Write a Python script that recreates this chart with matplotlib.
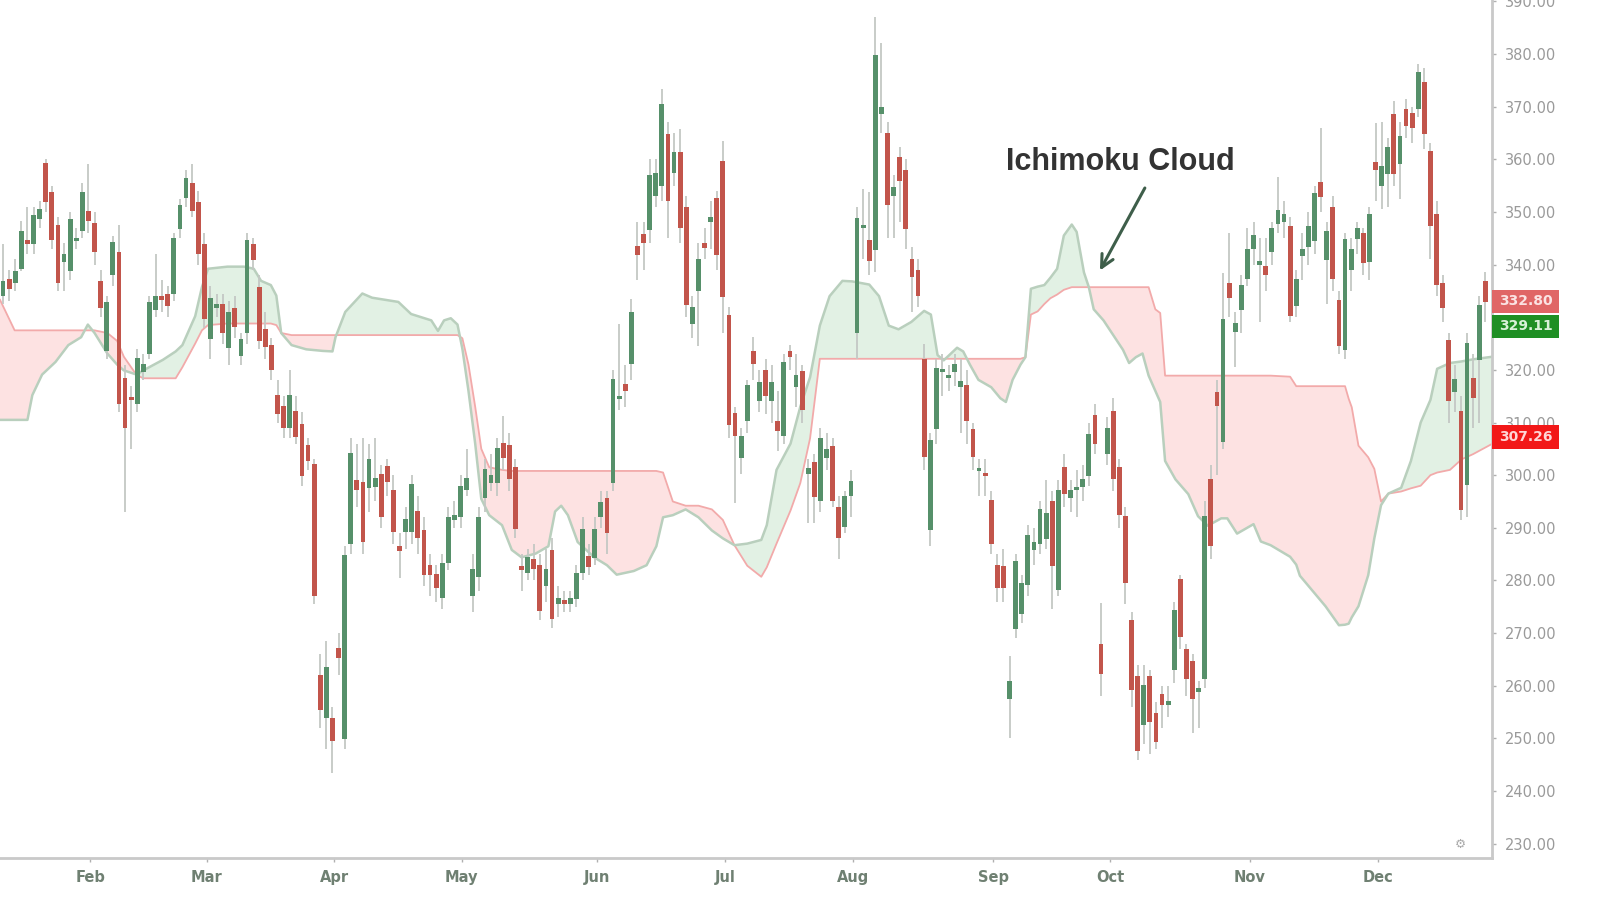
import numpy as np
import matplotlib
matplotlib.use("Agg")
import matplotlib.pyplot as plt
from matplotlib.patches import Rectangle
import matplotlib.transforms as mtransforms

# daily candles, one per trading day
opens = [334.1, 337.2, 336.5, 339.2, 344.7, 343.9, 348.7, 359.3, 353.8, 347.5,
         340.4, 338.8, 344.5, 346.3, 350.2, 347.9, 336.9, 323.5, 338.0, 342.4,
         318.4, 314.6, 313.6, 319.5, 323.1, 331.3, 334.0, 334.5, 334.5, 346.7,
         352.6, 355.4, 351.8, 343.9, 325.8, 331.8, 332.5, 324.2, 331.7, 322.7,
         327.0, 343.9, 335.7, 327.8, 324.7, 315.2, 313.2, 308.9, 312.1, 309.7,
         305.7, 302.2, 262.0, 253.8, 253.8, 267.2, 249.9, 286.9, 299.1, 298.7,
         297.5, 297.8, 300.2, 301.8, 297.1, 286.5, 289.2, 289.2, 293.2, 289.6,
         282.9, 281.3, 276.6, 283.3, 291.4, 292.0, 297.1, 277.1, 280.7, 295.6,
         298.5, 298.5, 306.2, 305.8, 301.5, 282.8, 281.5, 284.1, 282.9, 278.9,
         285.8, 275.6, 276.2, 275.6, 276.4, 281.5, 284.7, 284.3, 292.0, 295.6,
         298.5, 314.5, 317.4, 321.1, 343.6, 345.8, 346.5, 353.0, 354.9, 364.7,
         357.4, 361.4, 350.9, 328.7, 334.9, 344.0, 348.0, 352.7, 359.6, 330.5,
         311.9, 303.2, 310.2, 323.5, 314.0, 320.0, 314.0, 310.2, 307.4, 323.5,
         316.8, 319.7, 300.3, 302.5, 295.1, 303.2, 305.6, 294.0, 290.2, 296.1,
         327.0, 346.9, 344.6, 342.8, 368.5, 364.9, 353.0, 360.4, 357.9, 341.1,
         339.0, 322.1, 289.5, 308.8, 319.5, 318.4, 319.5, 316.8, 317.2, 308.7,
         300.8, 299.9, 295.3, 283.0, 282.7, 257.4, 270.7, 273.6, 279.2, 285.8,
         286.9, 287.9, 295.0, 278.1, 301.6, 295.7, 297.1, 297.8, 299.9, 311.5,
         267.9, 304.1, 312.2, 301.6, 292.2, 272.5, 261.9, 252.5, 261.9, 254.9,
         258.5, 256.4, 263.0, 280.2, 266.9, 264.8, 258.8, 261.3, 299.2, 315.8,
         306.3, 336.5, 327.1, 331.4, 337.2, 343.0, 340.0, 339.8, 342.3, 347.7,
         348.1, 347.4, 332.1, 341.6, 343.4, 344.5, 355.7, 340.9, 351.0, 333.2,
         323.8, 339.0, 344.8, 346.0, 340.5, 359.4, 355.0, 357.2, 368.5, 359.0,
         369.6, 368.8, 369.6, 374.7, 361.6, 349.6, 336.5, 325.6, 315.8, 312.1,
         298.2, 318.4, 321.9, 336.8]
highs = [343.9, 339.0, 341.0, 348.2, 351.0, 351.0, 352.0, 360.0, 355.0, 349.0,
         344.0, 350.0, 347.0, 355.5, 359.0, 350.0, 339.0, 334.0, 345.5, 347.5,
         321.0, 317.0, 324.0, 323.0, 334.0, 342.0, 337.0, 336.0, 346.0, 352.5,
         358.0, 359.0, 354.0, 346.0, 336.0, 334.5, 334.5, 333.0, 334.0, 327.0,
         346.0, 345.0, 338.0, 331.0, 326.0, 318.0, 315.0, 320.0, 315.0, 312.0,
         307.0, 303.0, 266.0, 268.5, 256.0, 270.0, 286.5, 307.0, 306.0, 307.0,
         306.0, 307.0, 302.0, 303.0, 300.0, 289.0, 294.0, 300.0, 296.0, 292.0,
         285.0, 283.0, 285.0, 294.0, 295.0, 300.0, 305.0, 285.0, 294.0, 303.0,
         304.0, 307.0, 311.2, 308.0, 303.0, 285.0, 286.0, 287.0, 285.0, 286.0,
         288.0, 279.0, 278.0, 278.0, 283.0, 292.0, 287.0, 292.0, 297.0, 297.0,
         320.0, 328.7, 321.0, 333.5, 348.0, 348.0, 360.0, 360.0, 373.4, 367.0,
         365.0, 365.7, 353.0, 334.0, 344.0, 347.0, 352.0, 354.0, 363.5, 332.0,
         313.0, 309.0, 318.0, 326.3, 320.0, 322.0, 321.0, 316.0, 323.0, 324.7,
         323.0, 321.0, 303.0, 304.0, 309.0, 308.0, 307.0, 296.0, 297.0, 301.0,
         351.0, 354.4, 353.8, 387.0, 382.0, 367.0, 357.0, 362.3, 360.0, 343.4,
         341.0, 325.0, 308.0, 322.0, 323.0, 321.0, 323.0, 322.0, 320.0, 310.0,
         303.0, 303.0, 297.0, 285.0, 286.0, 265.7, 285.0, 281.0, 290.5, 290.0,
         295.0, 299.0, 297.0, 299.0, 304.0, 299.0, 301.0, 302.0, 310.0, 313.5,
         275.7, 311.0, 314.7, 303.0, 294.0, 274.0, 264.0, 264.0, 263.0, 257.0,
         260.0, 260.0, 276.0, 281.0, 268.0, 266.0, 261.0, 295.0, 302.0, 318.0,
         338.4, 346.0, 331.0, 338.0, 347.0, 348.0, 345.0, 345.0, 348.0, 356.6,
         352.0, 349.0, 339.0, 346.0, 350.0, 355.0, 366.0, 348.0, 353.0, 335.0,
         346.0, 345.0, 348.0, 347.0, 351.0, 366.8, 367.0, 364.0, 371.0, 367.0,
         371.5, 370.0, 378.0, 377.3, 363.0, 352.0, 338.0, 327.0, 321.0, 315.0,
         327.0, 323.0, 334.0, 338.5]
lows = [332.5, 333.0, 335.0, 338.8, 342.0, 342.0, 347.0, 350.0, 343.0, 335.0,
        335.0, 337.0, 343.0, 345.0, 346.0, 340.0, 330.0, 322.0, 336.0, 312.0,
        293.0, 305.0, 312.0, 318.0, 322.0, 330.0, 331.0, 330.0, 333.0, 345.0,
        351.0, 349.0, 340.0, 328.0, 322.0, 330.0, 325.0, 321.0, 326.0, 321.0,
        325.0, 339.0, 324.0, 322.0, 318.0, 310.0, 307.0, 307.0, 306.0, 298.0,
        301.0, 275.5, 252.0, 248.0, 243.5, 262.0, 248.0, 285.0, 294.0, 285.0,
        293.0, 295.0, 290.0, 296.0, 287.0, 280.5, 286.0, 287.0, 285.0, 279.0,
        277.0, 276.0, 274.5, 282.0, 290.0, 290.0, 296.0, 274.0, 278.0, 293.0,
        297.0, 296.0, 301.0, 297.0, 288.0, 278.0, 280.0, 280.0, 272.5, 276.0,
        271.0, 273.0, 274.0, 274.0, 275.0, 280.0, 281.0, 283.0, 290.0, 285.0,
        297.0, 312.4, 313.0, 318.0, 337.0, 339.0, 344.0, 351.0, 352.0, 345.0,
        355.0, 344.0, 330.0, 326.0, 324.5, 341.0, 343.0, 339.0, 327.0, 307.0,
        294.7, 300.3, 308.0, 318.0, 312.0, 311.7, 310.0, 304.6, 306.0, 320.0,
        313.0, 310.0, 291.0, 291.0, 293.0, 301.0, 294.0, 284.0, 289.0, 292.0,
        322.0, 341.0, 338.0, 338.6, 365.0, 345.0, 345.0, 348.0, 343.0, 331.0,
        332.0, 301.0, 286.5, 306.0, 315.0, 316.0, 317.0, 308.0, 306.0, 301.0,
        296.0, 296.0, 285.0, 276.0, 276.0, 250.0, 269.0, 272.0, 277.0, 283.0,
        285.0, 286.0, 274.5, 277.0, 294.0, 293.0, 292.0, 295.0, 298.0, 304.0,
        258.1, 302.0, 297.0, 290.0, 275.5, 256.0, 246.0, 249.0, 247.0, 248.0,
        252.0, 254.0, 260.5, 267.0, 258.0, 251.0, 252.0, 259.5, 284.0, 300.0,
        305.0, 330.0, 320.5, 327.0, 336.0, 340.0, 329.0, 335.0, 340.0, 346.0,
        345.0, 329.0, 330.0, 337.0, 340.0, 342.0, 350.0, 332.5, 335.0, 323.0,
        322.0, 335.0, 342.0, 338.0, 337.0, 352.0, 350.5, 351.0, 355.0, 352.5,
        364.0, 363.0, 368.0, 362.0, 341.0, 334.0, 329.0, 310.0, 312.0, 291.5,
        292.0, 309.0, 310.0, 329.0]
closes = [336.9, 335.3, 338.8, 346.3, 343.9, 349.5, 350.6, 351.8, 344.7, 336.5,
          342.0, 348.6, 344.8, 353.8, 348.3, 342.4, 331.7, 332.9, 344.3, 313.6,
          308.9, 314.2, 322.3, 321.1, 332.9, 334.1, 333.2, 332.1, 345.1, 351.4,
          356.5, 350.2, 342.0, 329.7, 333.7, 332.5, 327.0, 330.9, 328.2, 325.8,
          344.7, 340.8, 325.4, 324.3, 319.9, 311.7, 308.9, 315.2, 307.3, 299.9,
          302.6, 277.0, 255.4, 263.6, 249.5, 265.2, 284.9, 304.2, 297.1, 287.3,
          303.0, 299.5, 292.0, 298.7, 289.2, 285.6, 291.6, 298.3, 288.0, 281.0,
          281.0, 278.6, 283.3, 292.0, 292.4, 297.9, 299.5, 282.2, 292.0, 301.1,
          300.0, 305.1, 303.2, 299.3, 289.8, 282.0, 284.4, 282.2, 274.2, 282.2,
          272.7, 276.7, 275.6, 276.7, 281.5, 289.8, 282.6, 289.8, 294.9, 289.1,
          318.2, 314.6, 316.0, 330.9, 341.8, 344.0, 357.1, 357.4, 370.5, 352.0,
          361.4, 346.9, 332.3, 332.0, 341.1, 343.2, 349.0, 341.8, 333.8, 309.5,
          307.4, 307.4, 317.2, 321.1, 317.6, 315.1, 317.6, 308.4, 321.4, 322.5,
          319.0, 312.3, 301.4, 295.8, 307.0, 304.9, 295.1, 288.0, 296.1, 298.9,
          348.8, 347.2, 340.7, 379.7, 369.9, 351.3, 354.8, 355.8, 346.7, 337.6,
          334.0, 303.5, 306.7, 320.4, 320.0, 318.8, 321.1, 317.9, 310.2, 303.4,
          301.0, 299.8, 286.9, 278.5, 278.5, 260.9, 283.7, 279.5, 288.7, 287.3,
          293.6, 292.9, 282.7, 297.1, 296.4, 297.1, 297.8, 299.2, 307.9, 305.9,
          262.3, 309.0, 299.2, 292.5, 279.5, 259.2, 247.6, 260.2, 253.2, 249.3,
          256.4, 257.1, 274.3, 269.3, 261.3, 257.4, 259.5, 292.2, 286.5, 313.2,
          329.6, 333.6, 328.9, 336.1, 343.0, 345.6, 340.5, 338.0, 347.0, 350.3,
          349.6, 330.3, 337.2, 343.0, 347.4, 353.6, 352.9, 346.3, 337.2, 324.5,
          344.8, 343.0, 347.0, 340.2, 349.6, 358.0, 358.7, 362.3, 357.2, 364.5,
          366.3, 366.0, 376.5, 364.8, 347.4, 336.2, 331.8, 314.0, 318.2, 293.4,
          325.1, 314.6, 332.3, 332.8]

# ichimoku cloud, leading spans A and B
cloud_days = [-0.5, 1.9, 4, 4.8, 6.4, 8.6, 10.7, 12.8, 13.9, 15, 17.1, 18.7, 19.8, 21.9, 23,
              26.2, 28.3, 29.4, 31.5, 32.6, 33.6, 36.8, 39.5,
              41.1, 42.3, 43.9, 44.8, 45.6, 47.3, 49.7, 52.4, 54, 54.5, 56.1, 58.9, 60.5,
              64.8, 66.9, 70.2, 71.3, 72.3, 73.4, 74.5, 75.3, 76.3, 77.4,
              78.4, 79.7, 81.8, 83.4, 85, 87.3, 89.4, 90.5, 91.5, 92.6, 94.2, 96.9, 99,
              100.6, 103.4, 105.5, 107.1, 108.2, 109.8, 111.9, 114, 116.2, 118,
              119.9, 122, 124.3, 125.2, 126.8, 129.1, 130.7, 132.3, 133.9, 135.5, 137.6,
              139.2, 142, 143.6, 145.2, 146.8, 148.9, 151, 152.1, 153.2, 154.2, 156.4,
              157.4, 158.5,
              159.9, 162, 163.5, 164.4, 165.5, 166.8, 167.6, 168.5, 169.6, 170.7, 171.7,
              172.8, 173.9, 175.2, 176, 177.2, 178, 178.8, 180.4, 182, 183.6, 184.6,
              185.7, 186.8, 187.8, 188.9, 189.7, 190.5, 192.2, 194.3, 195.9,
              197.5, 199.7, 200.7, 202.3, 205, 206.2, 207.8, 211, 212, 212.6, 214.7,
              216.8, 219, 220, 220.6, 221.1, 222.2, 223.8, 224.8, 225.9, 227.1, 229.2,
              230.8, 232.4, 234, 235.1, 237.2, 239.1, 241, 244.2]
span_a = [310.5, 310.5, 310.5, 315.2, 319.1, 321.5, 324.7, 326.2, 328.6, 327.0, 323.1,
          321.0, 319.9, 319.1, 319.9, 321.9, 323.5, 324.7, 330.2, 335.7, 339.2, 339.6, 339.6,
          339.2, 336.9, 336.1, 334.1, 327.0, 324.7, 323.9, 323.6, 323.5, 326.2, 331.0,
          334.5, 333.7, 332.9, 330.6, 329.4, 327.4, 329.4, 329.8, 328.6, 324.0, 316.0, 306.0,
          295.5, 292.4, 290.5, 285.8, 284.4, 285.1, 286.5, 293.1, 294.2, 292.4, 287.3,
          284.4, 282.9, 281.1, 281.8, 282.9, 286.5, 292.0, 292.4, 293.5, 292.0, 289.5, 288.0,
          286.7, 287.0, 287.7, 290.5, 301.0, 306.0, 313.0, 318.6, 328.4, 334.0, 336.9,
          336.8, 336.2, 334.0, 328.4, 327.7, 329.1, 331.2, 330.5, 322.8, 321.8, 324.2,
          323.5, 321.0,
          318.1, 316.7, 314.6, 313.9, 318.1, 321.0, 322.4, 335.4, 335.8, 336.1, 337.5,
          339.2, 345.5, 347.6, 346.2, 338.5, 335.7, 331.5, 329.4, 326.6, 323.8, 321.3,
          322.4, 323.1, 318.9, 316.0, 313.9, 302.7, 299.2, 296.4, 292.2,
          290.4, 291.8, 291.8, 288.9, 290.7, 287.4, 286.7, 284.5, 283.0, 280.9, 278.0,
          275.1, 271.5, 271.6, 271.8, 273.0, 275.1, 281.0, 288.0, 294.3, 296.5, 297.6,
          302.7, 310.0, 314.3, 320.2, 321.3, 321.6, 322.0, 322.5]
span_b = [333.3, 327.5, 327.5, 327.5, 327.5, 327.5, 327.5, 327.5, 327.5, 327.5, 327.0,
          325.5, 322.5, 319.0, 318.4, 318.4, 318.4, 320.5, 325.0, 327.5, 328.5, 328.8, 328.8,
          328.8, 328.8, 328.8, 328.5, 327.0, 326.6, 326.6, 326.6, 326.6, 326.6, 326.6,
          326.6, 326.6, 326.6, 326.6, 326.6, 326.6, 326.6, 326.6, 326.6, 326.0, 321.0, 313.0,
          305.0, 301.5, 301.0, 300.8, 300.8, 300.8, 300.8, 300.8, 300.8, 300.8, 300.8,
          300.8, 300.8, 300.8, 300.8, 300.8, 300.8, 300.5, 295.0, 294.2, 294.2, 293.5, 291.5,
          286.7, 282.8, 280.7, 282.5, 287.0, 293.3, 298.5, 307.0, 322.1, 322.1, 322.1,
          322.1, 322.1, 322.1, 322.1, 322.1, 322.1, 322.1, 322.1, 322.1, 322.1, 322.1,
          322.1, 322.1,
          322.1, 322.1, 322.1, 322.1, 322.1, 322.1, 322.4, 330.5, 331.1, 332.5, 333.6,
          334.3, 335.2, 335.7, 335.7, 335.7, 335.7, 335.7, 335.7, 335.7, 335.7, 335.7,
          335.7, 335.7, 335.7, 331.5, 330.8, 318.9, 318.9, 318.9, 318.9,
          318.9, 318.9, 318.9, 318.9, 318.9, 318.9, 318.9, 318.7, 316.9, 316.9, 316.9,
          316.9, 316.9, 316.9, 314.5, 312.9, 305.6, 303.4, 301.2, 295.0, 296.5, 296.9,
          297.5, 298.0, 300.0, 300.5, 301.0, 303.0, 304.0, 306.0]

month_labels = ["Feb", "Mar", "Apr", "May", "Jun", "Jul", "Aug", "Sep", "Oct", "Nov", "Dec"]
month_days = [14.3, 33.4, 54.3, 75.2, 97.4, 118.4, 139.3, 162.3, 181.5, 204.4, 225.4]

price_tags = [332.80, 329.11, 307.26]
tag_colors = ["#e06666", "#1f8f24", "#f21818"]
tag_text = ["#fbe3e3", "#d9f2d9", "#ffd6d6"]
tag_shift = [0.2, -0.8, 0.0]

o = np.array(opens)
h = np.array(highs)
l = np.array(lows)
c = np.array(closes)
days = np.arange(len(o))
a = np.array(span_a)
b = np.array(span_b)
cd = np.array(cloud_days)

fig = plt.figure(figsize=(15.98, 9.08), dpi=100)
ax = fig.add_axes([0.0, 0.0551, 0.9337, 0.9449])

green = "#56906a"
red = "#c2554b"

ax.fill_between(cd, a, b, where=a >= b, interpolate=True, color="#e2f1e4", lw=0, zorder=1)
ax.fill_between(cd, a, b, where=a < b, interpolate=True, color="#fde2e2", lw=0, zorder=1)
ax.plot(cd, b, color="#f2aaaa", lw=1.3, zorder=1.5)
ax.plot(cd, a, color="#b9cfbd", lw=1.8, zorder=1.6)

up = c >= o
cols = np.where(up, green, red)
bottom = np.minimum(o, c)
height = np.maximum(np.abs(c - o), 0.6)
ax.vlines(days, l, h, color="#c4c8c4", lw=1.3, zorder=2)
ax.bar(days, height, bottom=bottom, width=0.8, color=cols, lw=0, zorder=3)

ax.set_xlim(-0.5, 244.1)
ax.set_ylim(227.3, 390.24)

for s in ["top", "left"]:
    ax.spines[s].set_visible(False)
for s in ["right", "bottom"]:
    ax.spines[s].set_color("#c9c9c9")
    ax.spines[s].set_linewidth(2)

yt = np.arange(230, 391, 10)
ax.yaxis.tick_right()
ax.set_yticks(yt)
# the 330 label sits under the price tags
ax.set_yticklabels(["" if v == 330 else "%.2f" % v for v in yt])
ax.tick_params(axis="y", length=3, width=1, color="#b0b0b0", pad=6,
               labelsize=10.5, labelcolor="#9a9a9a")
ax.set_xticks(month_days)
ax.set_xticklabels(month_labels, fontweight="bold")
ax.tick_params(axis="x", length=3, width=1, color="#b0b0b0", pad=6,
               labelsize=10.5, labelcolor="#6f8072")

trans = mtransforms.blended_transform_factory(ax.transAxes, ax.transData)
for v, fc, tc, sh in zip(price_tags, tag_colors, tag_text, tag_shift):
    ax.add_patch(Rectangle((1.0, v + sh - 2.2), 0.045, 4.4, transform=trans,
                           facecolor=fc, edgecolor="none", clip_on=False, zorder=5))
    ax.text(1.0225, v + sh, "%.2f" % v, transform=trans, ha="center", va="center",
            color=tc, fontsize=10, fontweight="bold", clip_on=False, zorder=6)

ax.text(183.1, 359.5, "Ichimoku Cloud", ha="center", va="center", fontsize=22,
        fontweight="bold", family=["Liberation Sans", "DejaVu Sans"], color="#333333")
ax.annotate("", xy=(179.6, 338.4), xytext=(187.4, 355.0),
            arrowprops=dict(arrowstyle="->,head_length=0.9,head_width=0.45",
                            color="#3e5e4a", lw=2.2))
ax.text(238.9, 229.9, "\u2699", ha="center", va="center", fontsize=9, color="#aaaaaa")

plt.savefig("out.png", dpi=100)
